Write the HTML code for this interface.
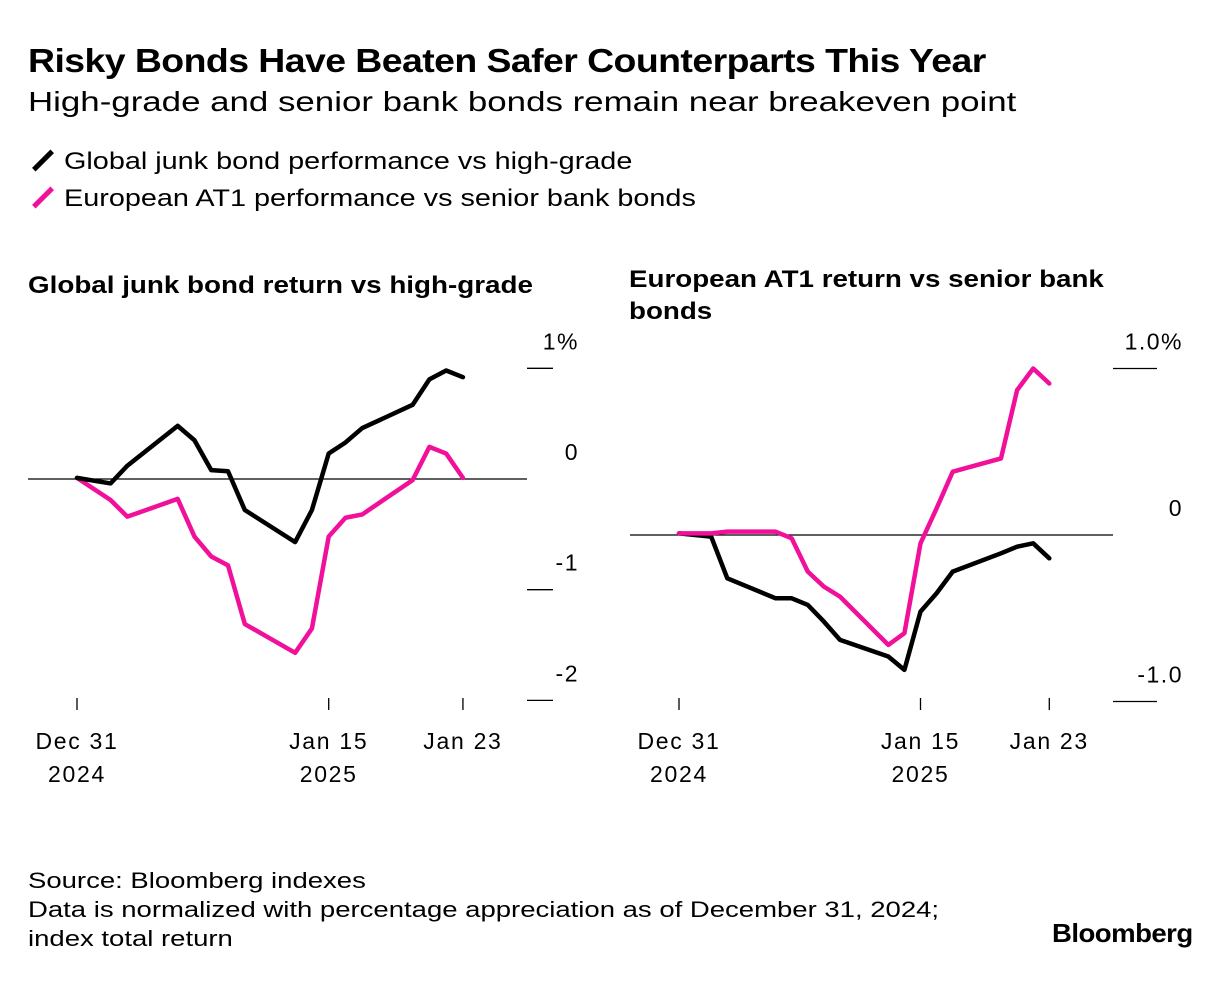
<!DOCTYPE html>
<html><head><meta charset="utf-8"><style>
body{margin:0;background:#fff;font-family:"Liberation Sans",sans-serif;color:#000}
#wrap{position:relative;width:1232px;height:994px;overflow:hidden}
.t{position:absolute;white-space:nowrap;transform-origin:0 0}
</style></head><body>
<div id="wrap">
<div class="t" style="left:28px;top:42px;font-size:33px;font-weight:bold;letter-spacing:-0.5px;transform:scaleX(1.134)">Risky Bonds Have Beaten Safer Counterparts This Year</div>
<div class="t" style="left:28px;top:86px;font-size:28px;transform:scaleX(1.245)">High-grade and senior bank bonds remain near breakeven point</div>
<div class="t" style="left:28px;top:148px;font-size:24px"><span style="display:inline-block;width:26px;height:5px;background:#000;transform:rotate(-45deg);vertical-align:middle;margin:0 8px 4px 2px"></span><span style="display:inline-block;transform:scaleX(1.2);transform-origin:0 0">Global junk bond performance vs high-grade</span></div>
<div class="t" style="left:28px;top:185px;font-size:24px"><span style="display:inline-block;width:26px;height:5px;background:#f0109a;transform:rotate(-45deg);vertical-align:middle;margin:0 8px 4px 2px"></span><span style="display:inline-block;transform:scaleX(1.2);transform-origin:0 0">European AT1 performance vs senior bank bonds</span></div>
<div class="t" style="left:28px;top:272px;font-size:24px;font-weight:bold;transform:scaleX(1.158)">Global junk bond return vs high-grade</div>
<div class="t" style="left:629px;top:264px;font-size:24px;font-weight:bold;line-height:32px;transform:scaleX(1.156)">European AT1 return vs senior bank<br>bonds</div>
<svg id="svg" width="1232" height="994" style="position:absolute;left:0;top:0"></svg>
<div class="t" style="left:28px;top:866px;font-size:22px;line-height:29px;transform:scaleX(1.25)">Source: Bloomberg indexes<br>Data is normalized with percentage appreciation as of December 31, 2024;<br>index total return</div>
<div class="t" style="left:1052px;top:918px;font-size:26px;font-weight:bold;letter-spacing:-0.5px;transform:scaleX(1.06)">Bloomberg</div>
</div>
<script>
const days=[0,2,3,6,7,8,9,10,13,14,15,16,17,20,21,22,23];
const leftJunk=[0.01,-0.04,0.12,0.48,0.35,0.08,0.07,-0.28,-0.57,-0.28,0.23,0.33,0.46,0.67,0.9,0.98,0.92];
const leftAT1=[0.01,-0.19,-0.34,-0.18,-0.52,-0.70,-0.78,-1.31,-1.57,-1.35,-0.52,-0.35,-0.32,-0.01,0.29,0.23,0.01];
const rightAT1=[0.01,0.01,0.02,0.02,-0.02,-0.22,-0.31,-0.37,-0.66,-0.59,-0.05,0.16,0.38,0.46,0.87,1.0,0.91];
const rightJunk=[0.01,-0.01,-0.26,-0.38,-0.38,-0.42,-0.52,-0.63,-0.73,-0.81,-0.46,-0.35,-0.22,-0.11,-0.07,-0.05,-0.14];
const leftYTicks=[1,0,-1,-2];const leftYLabels=["1%","0","-1","-2"];
const rightYTicks=[1,0,-1];const rightYLabels=["1.0%","0","-1.0"];
const xTickDays=[0,15,23];const xTickLabels=[["Dec 31","2024"],["Jan 15","2025"],["Jan 23",""]];
const svg=document.getElementById('svg');const NS="http://www.w3.org/2000/svg";
function mk(t,a,p){const e=document.createElementNS(NS,t);for(const k in a)e.setAttribute(k,a[k]);(p||svg).appendChild(e);return e;}
function panel(name,x0,dx,y0,dy,axL,axR,tkR,yt,yl,series){
 const X=d=>x0+d*dx,Y=v=>y0-v*dy;
 const g=mk('g',{});
 yt.forEach((v,i)=>{
  if(v===0){const l=mk('line',{x1:axL,x2:axR,y1:Y(0),y2:Y(0),stroke:'#000','stroke-width':1.3},g);}
  else{const l=mk('line',{x1:axR,x2:tkR,y1:Y(v),y2:Y(v),stroke:'#000','stroke-width':1.3},g);}
  const t=mk('text',{x:tkR+26,y:Y(v)-19,'text-anchor':'end','font-size':23,'letter-spacing':1.5,'font-family':'Liberation Sans'},g);t.textContent=yl[i];
  
 });
 xTickDays.forEach((d,i)=>{
  const l=mk('line',{x1:X(d),x2:X(d),y1:698,y2:710,stroke:'#000','stroke-width':1.3},g);
  xTickLabels[i].forEach((s,j)=>{if(!s)return;const t=mk('text',{x:X(d),y:749+j*33,'text-anchor':'middle','font-size':23,'letter-spacing':1.7,'font-family':'Liberation Sans'},g);t.textContent=s;});
 });
 series.forEach(s=>{
  const p=mk('polyline',{points:days.map((d,i)=>X(d)+','+Y(s.v[i])).join(' '),fill:'none',stroke:s.c,'stroke-width':4.5,'stroke-linejoin':'round','stroke-linecap':'round'},g);
  
 });
}
panel('left-chart',77,16.78,479,110.7,28,527,553,leftYTicks,leftYLabels,[{v:leftAT1,c:'#f0109a',n:'at1-line'},{v:leftJunk,c:'#000',n:'junk-line'}]);
panel('right-chart',679,16.1,535,166.5,630,1113,1157,rightYTicks,rightYLabels,[{v:rightJunk,c:'#000',n:'junk-line'},{v:rightAT1,c:'#f0109a',n:'at1-line'}]);
</script>
</body></html>
